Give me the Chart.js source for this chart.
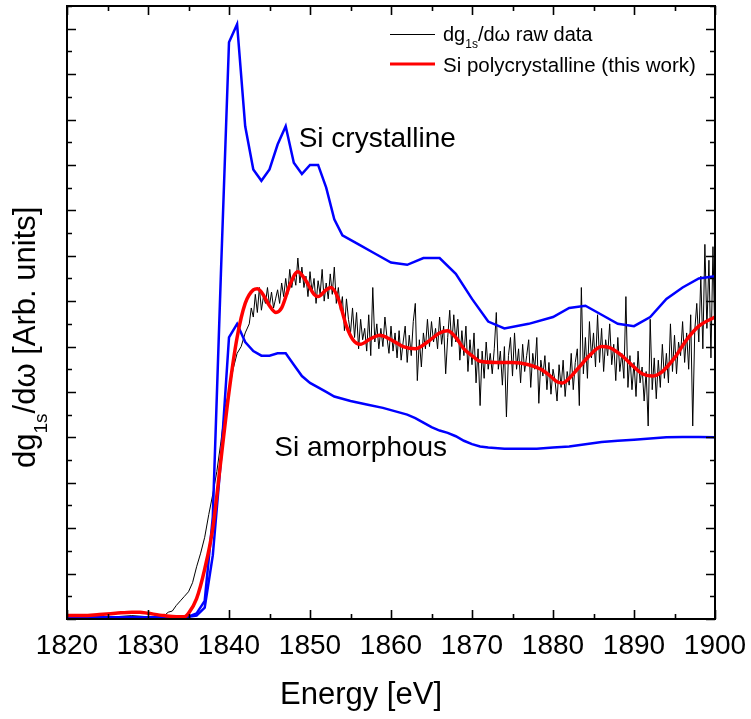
<!DOCTYPE html>
<html>
<head>
<meta charset="utf-8">
<script src="https://cdn.jsdelivr.net/npm/chart.js@4.4.0/dist/chart.umd.min.js"></script>
<style>
  html, body { margin: 0; padding: 0; background: #fff; }
</style>
</head>
<body>
<canvas id="chart" width="751" height="719"></canvas>
<script>
// axis ticks
const xTickLabels = [1820, 1830, 1840, 1850, 1860, 1870, 1880, 1890, 1900];
const xMinorTicks = [1825, 1835, 1845, 1855, 1865, 1875, 1885, 1895];
const yTop = 27; // arb. units, unlabeled ticks every 1, long every 2

// Si crystalline (reference, blue)
const crystE = [1820, 1825, 1830, 1834, 1835, 1836, 1837, 1838, 1839, 1840, 1841, 1842, 1843, 1844, 1845, 1846, 1847, 1848, 1849, 1850,
  1851, 1852, 1853, 1854, 1856, 1858, 1860, 1862, 1864, 1866, 1868, 1870, 1872, 1874, 1877, 1880, 1882, 1884, 1886, 1888,
  1890, 1892, 1894, 1896, 1898, 1900];
const crystV = [0.08, 0.08, 0.08, 0.08, 0.1, 0.25, 0.8, 4.5, 15.2, 25.4, 26.2, 21.7, 19.8, 19.3, 19.8, 20.9, 21.7, 20.1, 19.6, 20.0,
  20.0, 19.0, 17.6, 16.9, 16.5, 16.1, 15.7, 15.6, 15.9, 15.9, 15.2, 14.1, 13.1, 12.8, 13.0, 13.3, 13.7, 13.8, 13.4, 13.0,
  12.9, 13.3, 14.1, 14.6, 15.0, 15.1];

// Si amorphous (reference, blue)
const amorE = [1820, 1830, 1834, 1835, 1836, 1837, 1838, 1839, 1840, 1841, 1842, 1843, 1844, 1845, 1846, 1847, 1848, 1849, 1850, 1851,
  1852, 1853, 1855, 1857, 1859, 1861, 1862, 1863, 1864, 1865, 1866, 1867, 1868, 1869, 1870, 1871, 1872, 1874, 1876, 1878,
  1880, 1882, 1884, 1886, 1888, 1890, 1892, 1894, 1896, 1898, 1900];
const amorV = [0.05, 0.05, 0.05, 0.1, 0.15, 0.5, 2.8, 7.0, 12.4, 13.0, 12.2, 11.8, 11.6, 11.6, 11.7, 11.7, 11.2, 10.7, 10.4, 10.2,
  10.0, 9.8, 9.6, 9.45, 9.3, 9.1, 9.0, 8.85, 8.65, 8.45, 8.3, 8.2, 8.05, 7.85, 7.7, 7.6, 7.55, 7.5, 7.5, 7.5,
  7.55, 7.6, 7.7, 7.8, 7.85, 7.9, 7.95, 8.0, 8.02, 8.02, 8.0];

// Si polycrystalline fit (this work, red)
const polyE = [1820, 1822, 1824, 1826, 1828, 1829, 1830, 1832, 1833.5, 1834.5, 1835, 1836, 1837, 1838, 1839, 1840, 1841, 1842, 1843, 1843.5,
  1844, 1845, 1845.8, 1846.5, 1847.5, 1848.5, 1849.5, 1850.5, 1851, 1852, 1852.6, 1853.5, 1854.5, 1855.3, 1856.2, 1857.5, 1858.6, 1860, 1861.5, 1863,
  1864.5, 1866, 1867, 1868, 1869, 1870, 1871, 1873, 1875, 1877, 1878.5, 1879.5, 1880.5, 1881.2, 1882, 1883, 1884.5, 1886, 1887, 1888.5,
  1890, 1891, 1892.2, 1893.5, 1895, 1896.5, 1898, 1900];
const polyV = [0.15, 0.15, 0.2, 0.25, 0.3, 0.3, 0.25, 0.15, 0.1, 0.1, 0.25, 0.9, 2.2, 4.0, 7.0, 10.0, 12.4, 13.9, 14.5, 14.55,
  14.4, 13.8, 13.5, 13.7, 14.7, 15.3, 14.9, 14.3, 14.2, 14.5, 14.6, 14.1, 12.9, 12.3, 12.1, 12.35, 12.5, 12.3, 12.0, 11.9,
  12.2, 12.6, 12.7, 12.4, 11.9, 11.6, 11.35, 11.3, 11.3, 11.2, 11.0, 10.75, 10.45, 10.4, 10.6, 11.0, 11.6, 12.0, 11.95, 11.6,
  11.1, 10.8, 10.7, 10.9, 11.5, 12.3, 12.9, 13.3];

// dg1s/dw raw data (black): smooth edge, then noisy part sampled every 0.25 eV
const rawEdgeE = [1820, 1822, 1824, 1826, 1828, 1830, 1831, 1832, 1832.5, 1833, 1833.5, 1834, 1834.5, 1835, 1835.5, 1836, 1836.5, 1837, 1837.5, 1838,
  1838.5, 1839, 1839.5, 1840, 1840.5, 1841, 1841.5, 1842];
const rawEdgeV = [0.1, 0.1, 0.1, 0.1, 0.15, 0.1, 0.1, 0.15, 0.3, 0.35, 0.6, 0.8, 1.0, 1.2, 1.6, 2.3, 2.9, 3.6, 4.6, 5.5,
  6.5, 7.8, 9.3, 10.0, 11.0, 11.7, 12.0, 12.6];
const rawStart = 1842.5, rawStep = 0.25;
const rawV = [
  13.0, 13.7,
  13.3, 14.3, 13.5, 14.6,  13.6, 14.2, 13.9, 14.6,  13.8, 14.4, 13.7, 14.1,  14.5, 13.9, 14.8, 14.2,
  15.0, 14.3, 15.4, 14.6,  15.2, 14.7, 15.9, 14.8,  15.5, 14.6, 15.1, 14.2,  15.3, 14.4, 15.0, 13.9,
  14.9, 14.3, 15.4, 14.0,  14.8, 14.1, 15.2, 14.3,  15.5, 13.9, 14.6, 13.6,  14.2, 12.7, 14.1, 13.2,
  12.6, 13.7, 12.4, 13.5,  11.9, 13.2, 12.3, 12.8,  11.8, 13.4, 11.6, 14.6,  12.2, 13.0, 11.9, 12.8,
  12.0, 13.3, 12.4, 11.7,  12.9, 11.8, 12.6, 11.5,  12.7, 11.4, 12.2, 12.9,  11.3, 12.5, 11.6, 13.1,
  13.9, 10.5, 12.3, 11.1,  12.6, 11.9, 13.2, 12.0,  13.1, 12.2, 12.8, 11.9,  13.3, 12.1, 12.9, 10.8,
  12.4, 13.6, 12.0, 13.4,  12.2, 13.2, 11.4, 12.7,  11.6, 12.9, 10.9, 12.3,  11.2, 12.6, 10.4, 11.9,
  9.4, 11.8, 10.6, 12.2,  11.0, 11.7, 10.8, 11.9,  13.5, 11.0, 11.8, 10.3,  12.0, 8.9, 11.6, 12.4,
  10.7, 12.6, 11.0, 11.9,  10.4, 12.1, 10.9, 11.6,  12.3, 10.2, 11.7, 11.0,  12.4, 9.5, 11.4, 10.7,
  11.6, 10.1, 11.3, 9.9,  11.0, 10.5, 9.6, 11.2,  10.2, 11.4, 9.8, 10.9,  10.3, 11.7, 10.1, 11.3,
  11.9, 9.4, 14.6, 10.8,  12.4, 10.6, 13.1, 11.5,  12.6, 11.1, 13.4, 11.3,  12.8, 10.9, 12.3, 11.6,
  13.0, 11.2, 12.1, 10.5,  12.4, 10.9, 11.7, 10.6,  14.2, 10.2, 11.6, 10.1,  11.3, 9.8, 11.8, 10.4,
  11.1, 9.6, 10.9, 8.5,  13.2, 10.1, 11.5, 9.7,  11.4, 10.2, 12.1, 10.6,  11.7, 10.4, 13.0, 10.9,
  12.5, 10.8, 12.2, 11.6,  13.1, 11.3, 12.6, 11.0,  13.4, 8.5, 12.7, 13.9,  12.2, 15.1, 11.9, 16.5,
  12.8, 15.8, 11.5, 16.4,
  12.0
];

const FONT = "'Liberation Sans', Arial, sans-serif";

function pairs(xs, ys) {
  return xs.map((x, i) => ({ x: x, y: ys[i] }));
}

const rawData = pairs(rawEdgeE, rawEdgeV);
for (let i = 0; i < rawV.length; i++) {
  rawData.push({ x: rawStart + i * rawStep, y: rawV[i] });
}

// text with a subscript part, parts = [[text, isSub], ...]
function drawRich(ctx, parts, x, y, size, subSize, subDrop) {
  ctx.textAlign = "left";
  ctx.textBaseline = "alphabetic";
  for (const p of parts) {
    ctx.font = (p[1] ? subSize : size) + "px " + FONT;
    ctx.fillText(p[0], x, p[1] ? y + subDrop : y);
    x += ctx.measureText(p[0]).width;
  }
}

// frame, inward ticks, labels, titles, legend
const decor = {
  id: "decor",
  afterDraw(chart) {
    const ctx = chart.ctx;
    const a = chart.chartArea;
    const xs = chart.scales.x, ys = chart.scales.y;
    ctx.save();
    ctx.fillStyle = "#000";
    ctx.strokeStyle = "#000";

    // ticks
    ctx.lineWidth = 1.6;
    ctx.beginPath();
    const xt = [];
    xTickLabels.forEach(v => xt.push([v, 9]));
    xMinorTicks.forEach(v => xt.push([v, 5]));
    xt.forEach(t => {
      const px = Math.round(xs.getPixelForValue(t[0])) + 0.5;
      ctx.moveTo(px, a.bottom); ctx.lineTo(px, a.bottom - t[1]);
      ctx.moveTo(px, a.top); ctx.lineTo(px, a.top + t[1]);
    });
    for (let v = 0; v <= yTop; v++) {
      const len = v % 2 === 0 ? 9 : 5;
      const py = Math.round(ys.getPixelForValue(v)) + 0.5;
      ctx.moveTo(a.left, py); ctx.lineTo(a.left + len, py);
      ctx.moveTo(a.right, py); ctx.lineTo(a.right - len, py);
    }
    ctx.stroke();

    // frame
    ctx.lineWidth = 2;
    ctx.strokeRect(a.left, a.top, a.right - a.left, a.bottom - a.top);

    // tick labels
    ctx.font = "28px " + FONT;
    ctx.textAlign = "center";
    ctx.textBaseline = "alphabetic";
    xTickLabels.forEach(v => {
      ctx.fillText(String(v), xs.getPixelForValue(v), a.bottom + 35);
    });

    // x title
    ctx.font = "31px " + FONT;
    ctx.textAlign = "center";
    ctx.fillText("Energy [eV]", (a.left + a.right) / 2 - 30, a.bottom + 85);

    // y title (rotated, with subscript)
    const yParts = [["dg", false], ["1s", true], ["/d\u03c9 [Arb. units]", false]];
    ctx.save();
    ctx.translate(35, 468);
    ctx.rotate(-Math.PI / 2);
    drawRich(ctx, yParts, 0, 0, 31, 19, 12);
    ctx.restore();

    // curve labels
    ctx.font = "28px " + FONT;
    ctx.textAlign = "left";
    ctx.fillText("Si crystalline", xs.getPixelForValue(1848.6), ys.getPixelForValue(20.8));
    ctx.fillText("Si amorphous", xs.getPixelForValue(1845.6), ys.getPixelForValue(7.2));

    // legend
    ctx.lineWidth = 1;
    ctx.beginPath();
    ctx.moveTo(390, 34.5); ctx.lineTo(435, 34.5);
    ctx.stroke();
    ctx.strokeStyle = "#ff0000";
    ctx.lineWidth = 3;
    ctx.beginPath();
    ctx.moveTo(390, 64); ctx.lineTo(435, 64);
    ctx.stroke();
    drawRich(ctx, [["dg", false], ["1s", true], ["/d\u03c9 raw data", false]], 443, 41, 20, 12, 7);
    drawRich(ctx, [["Si polycrystalline (this work)", false]], 443, 72, 20.5, 12, 7);

    ctx.restore();
  }
};

new Chart(document.getElementById("chart"), {
  type: "line",
  plugins: [decor],
  data: {
    datasets: [
      {
        label: "dg1s/dw raw data",
        data: rawData,
        borderColor: "#000000",
        borderWidth: 1,
        pointRadius: 0,
        tension: 0,
        order: 3
      },
      {
        label: "Si crystalline",
        data: pairs(crystE, crystV),
        borderColor: "#0000ff",
        borderWidth: 2.5,
        pointRadius: 0,
        tension: 0,
        order: 2
      },
      {
        label: "Si amorphous",
        data: pairs(amorE, amorV),
        borderColor: "#0000ff",
        borderWidth: 2.5,
        pointRadius: 0,
        tension: 0,
        order: 2
      },
      {
        label: "Si polycrystalline (this work)",
        data: pairs(polyE, polyV),
        borderColor: "#ff0000",
        borderWidth: 3.5,
        pointRadius: 0,
        cubicInterpolationMode: "monotone",
        order: 1
      }
    ]
  },
  options: {
    responsive: false,
    animation: false,
    events: [],
    layout: { padding: { left: 67, right: 36, top: 6, bottom: 100 } },
    plugins: {
      legend: { display: false },
      tooltip: { enabled: false }
    },
    scales: {
      x: { type: "linear", min: 1820, max: 1900, display: false },
      y: { type: "linear", min: 0, max: yTop, display: false }
    }
  }
});
</script>
</body>
</html>
